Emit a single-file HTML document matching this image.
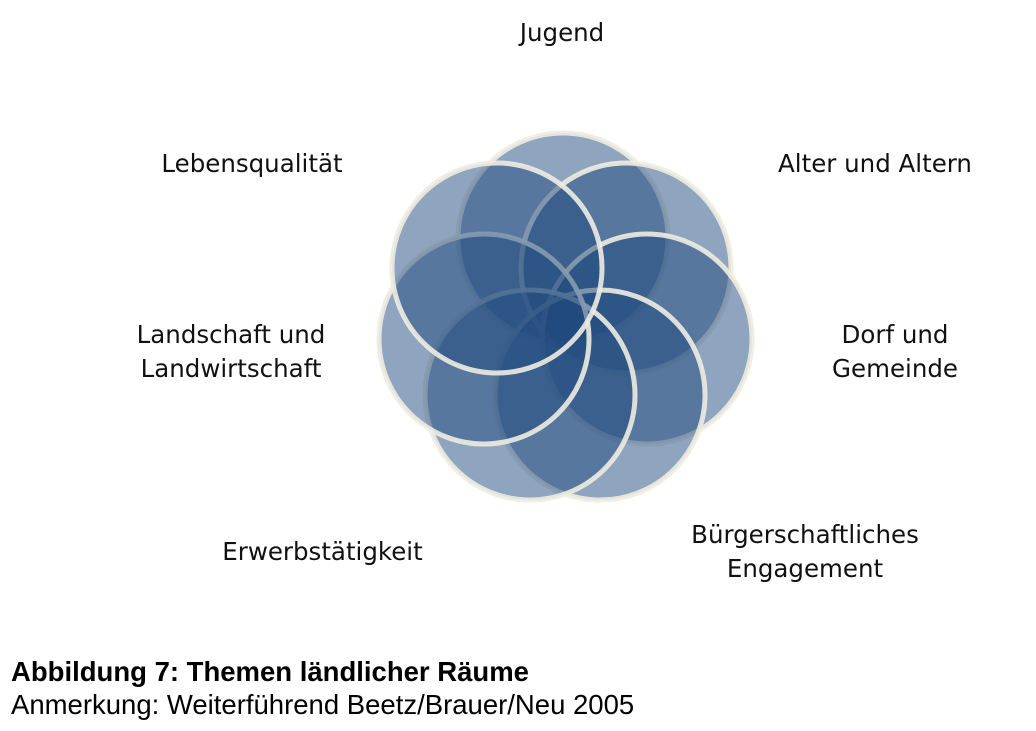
<!DOCTYPE html>
<html><head><meta charset="utf-8"><style>
body{margin:0;background:#fff;width:1036px;height:731px;position:relative;overflow:hidden;font-family:"Liberation Sans",sans-serif}
.l{position:absolute;color:#111;text-align:center;line-height:34px;font-family:"DejaVu Sans","Liberation Sans",sans-serif;font-size:24.5px;white-space:nowrap}
</style></head><body>
<svg width="1036" height="731" style="position:absolute;left:0;top:0">
<g fill="#1f497d" fill-opacity="0.5" stroke="#eeece1" stroke-width="5" stroke-opacity="0.9">
<circle cx="563" cy="238" r="105"/>
<circle cx="626" cy="268" r="105"/>
<circle cx="647" cy="339" r="105"/>
<circle cx="600" cy="395" r="105"/>
<circle cx="530" cy="395" r="105"/>
<circle cx="484" cy="339" r="105"/>
<circle cx="497" cy="268" r="105"/>
</g>
</svg>
<div class="l" style="left:462px;top:16px;width:200px">Jugend</div>
<div class="l" style="left:132px;top:147px;width:240px">Lebensqualität</div>
<div class="l" style="left:755px;top:147px;width:240px">Alter und Altern</div>
<div class="l" style="left:111px;top:318px;width:240px">Landschaft und<br>Landwirtschaft</div>
<div class="l" style="left:775px;top:318px;width:240px">Dorf und<br>Gemeinde</div>
<div class="l" style="left:190px;top:535px;width:265px">Erwerbstätigkeit</div>
<div class="l" style="left:670px;top:518px;width:270px">Bürgerschaftliches<br>Engagement</div>
<div style="position:absolute;left:11px;top:656px;font-size:27.5px;font-weight:bold;color:#000;white-space:nowrap">Abbildung 7: Themen ländlicher Räume</div>
<div style="position:absolute;left:11px;top:689px;font-size:27.5px;color:#000;white-space:nowrap">Anmerkung: Weiterführend Beetz/Brauer/Neu 2005</div>
</body></html>
